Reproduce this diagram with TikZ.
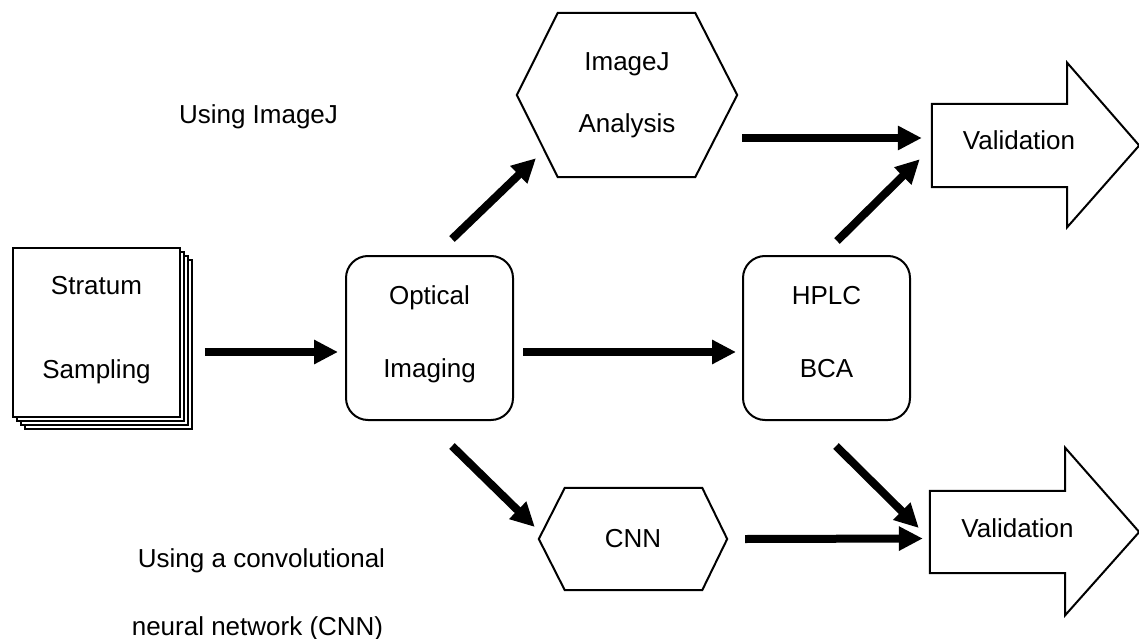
\documentclass[tikz,border=0pt]{standalone}
\usepackage{fontspec}
\setmainfont{Liberation Sans}
\usetikzlibrary{arrows.meta,calc,shadows}
\begin{document}
\begin{tikzpicture}[x=1pt,y=-1pt,
  txt/.style={font=\fontsize{26}{31}\selectfont, inner sep=0pt},
  outline/.style={draw=black, line width=2pt},
  conn/.style={line width=8pt, -{Triangle[length=24pt,width=23pt]}},
]
\useasboundingbox (0,0) rectangle (1139,639);

% Stratum sampling (stack of sheets)
\node[draw=black, line width=1.5pt, fill=white, minimum width=167pt, minimum height=169pt, inner sep=0pt,
  copy shadow={shadow xshift=12pt, shadow yshift=-12pt},
  copy shadow={shadow xshift=8pt, shadow yshift=-8pt},
  copy shadow={shadow xshift=4pt, shadow yshift=-4pt},
  label={[txt, align=center, font=\fontsize{26}{84}\selectfont, yshift=2.25pt]center:Stratum\\Sampling}] (ss) at (96.5,332.5) {};

% Optical imaging
\node[outline, rounded corners=22pt, minimum width=167pt, minimum height=164pt, inner sep=0pt,
  label={[txt, align=center, font=\fontsize{26}{73}\selectfont, yshift=3.25pt]center:Optical\\Imaging}] (oi) at (429.5,338) {};

% HPLC / BCA
\node[outline, rounded corners=22pt, minimum width=167pt, minimum height=164pt, inner sep=0pt,
  label={[txt, align=center, font=\fontsize{26}{73}\selectfont, yshift=5.8pt]center:HPLC\\BCA}] (hp) at (826.5,338) {};

% ImageJ analysis (hexagon)
\node[minimum width=220pt, minimum height=164pt, inner sep=0pt,
  label={[txt, align=center, font=\fontsize{26}{62}\selectfont]center:ImageJ\\Analysis}] (ij) at (627,95) {};
\draw[outline] (ij.west) -- ($(ij.north west)+(41,0)$) -- ($(ij.north east)+(-42,0)$) -- (ij.east)
  -- ($(ij.south east)+(-42,0)$) -- ($(ij.south west)+(41,0)$) -- cycle;

% CNN (hexagon)
\node[minimum width=188pt, minimum height=102pt, inner sep=0pt,
  label={[txt]center:CNN}] (cnn) at (633,539) {};
\draw[outline] (cnn.west) -- ($(cnn.north west)+(26,0)$) -- ($(cnn.north east)+(-25,0)$) -- (cnn.east)
  -- ($(cnn.south east)+(-25,0)$) -- ($(cnn.south west)+(26,0)$) -- cycle;

% Validation arrows
\node[minimum width=135pt, minimum height=83pt, inner sep=0pt,
  label={[txt, xshift=19.5pt, yshift=5pt]center:Validation}] (v1) at (999.5,145.5) {};
\draw[outline] (v1.north west) -- (v1.north east) -- ($(v1.north east)+(0,-41)$) -- ($(v1.east)+(72,0)$)
  -- ($(v1.south east)+(0,40)$) -- (v1.south east) -- (v1.south west) -- cycle;

\node[minimum width=135pt, minimum height=82pt, inner sep=0pt,
  label={[txt, xshift=20pt, yshift=3.5pt]center:Validation}] (v2) at (997.5,532) {};
\draw[outline] (v2.north west) -- (v2.north east) -- ($(v2.north east)+(0,-43)$) -- ($(v2.east)+(74,0)$)
  -- ($(v2.south east)+(0,42)$) -- (v2.south east) -- (v2.south west) -- cycle;

% side labels
\node[txt, anchor=base] (l1) at (258.5,124) {Using ImageJ};
\node[txt, anchor=base] (l2) at (261.5,567) {Using a convolutional};
\node[txt, anchor=base] (l3) at (257.5,635) {neural network (CNN)};

% connectors
\draw[conn] ($(ss.east)+(24,19.5)$) -- ($(oi.west)+(-7,14)$);
\draw[conn] ($(oi.east)+(9,14)$) -- ($(hp.west)+(-6,14)$);
\draw[conn] ($(oi.north)+(22.5,-16)$) -- ($(ij.south)+(-91,-19)$);
\draw[conn] ($(oi.south)+(22.5,25)$) -- ($(cnn.west)+(-4,-12)$);
\draw[conn] ($(hp.north)+(10.5,-14)$) -- ($(v1.south west)+(-12,-28)$);
\draw[conn] ($(hp.south)+(9.5,25)$) -- ($(v2.west)+(-11,-4)$);
\draw[conn] ($(ij.east)+(5,43)$) -- ($(v1.west)+(-10,-7.5)$);
\draw[conn] ($(cnn.east)+(18,0)$) -- ($(v2.west)+(-7,6.5)$);
\end{tikzpicture}
\end{document}
